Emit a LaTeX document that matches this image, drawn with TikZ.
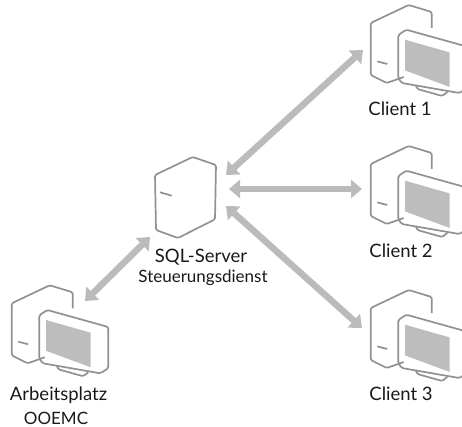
\documentclass[tikz,border=0pt]{standalone}
\usepackage{fontspec}
\setmainfont{Lato}
\usetikzlibrary{arrows.meta}
\definecolor{icongray}{HTML}{8E9296}
\definecolor{screengray}{HTML}{BDBDBD}
\definecolor{arrowgray}{HTML}{BBBBBB}
\tikzset{
  iconline/.style={draw=icongray,line width=1.7pt,line join=round,rounded corners=1.5pt},
  link/.style={draw=arrowgray,line width=6.5pt,{Triangle[length=11pt,width=18pt]}-{Triangle[length=11pt,width=18pt]}},
  caption/.style={text=black!90,font=\fontsize{18.5}{20}\selectfont,inner sep=0pt},
  subcaption/.style={text=black!90,font=\fontsize{17}{19}\selectfont,inner sep=0pt},
  pics/workstation/.style={code={
    \draw[iconline] (33,54) -- (16,60) -- (0,52) -- (0,0) -- (38,-18) -- (61,-11) -- (61,5);
    \draw[iconline] (6.6,38.4) -- (16.6,41);
    \draw[iconline] (27.6,55) -- (27.6,12) -- (35.6,6.7) -- (96.6,23.7) -- (96.6,65) -- (88.6,70) -- (31,60) -- cycle;
    \fill[screengray] (34.3,16.7) -- (79,29.4) -- (79,64) -- (34.3,47.4) -- cycle;
    \draw[iconline] (45,62) -- (46.6,66) -- (71.6,73) -- (76.6,69);
  }}
}
\begin{document}
\begin{tikzpicture}[x=1pt,y=-1pt]
  \useasboundingbox (0,0) rectangle (462,427);
  \clip (0,0) rectangle (462,427);

  % server
  \draw[iconline] (155,175) -- (192.7,157) -- (216,165) -- (215,219.3) -- (178,238) -- (156,230) -- cycle;
  \draw[iconline] (160,192.3) -- (171.7,195.7);
  \node[caption] (server) at (201,257) {SQL-Server};
  \node[subcaption] (dienst) at (203,278) {Steuerungsdienst};

  % clients
  \pic at (370.7,23) {workstation};
  \pic at (370.7,164) {workstation};
  \pic at (370.7,308) {workstation};
  \pic at (11.7,303.3) {workstation};
  \node[caption] (client1) at (400,109) {Client 1};
  \node[caption] (client2) at (401,251) {Client 2};
  \node[caption] (client3) at (401,394) {Client 3};
  \node[caption] (arbeitsplatz) at (58.5,395) {Arbeitsplatz};
  \node[subcaption] (ooemc) at (56,418) {OOEMC};

  % connectors
  \coordinate (srvA) at (226,175);
  \coordinate (srvB) at (229,189);
  \coordinate (srvC) at (226,206);
  \coordinate (srvD) at (150,237);
  \coordinate (portA) at (363,50);
  \coordinate (portB) at (362,189);
  \coordinate (portC) at (362,328);
  \coordinate (portD) at (85,301);
  \draw[link] (srvA) -- (portA);
  \draw[link] (srvB) -- (portB);
  \draw[link] (srvC) -- (portC);
  \draw[link] (srvD) -- (portD);
\end{tikzpicture}
\end{document}
